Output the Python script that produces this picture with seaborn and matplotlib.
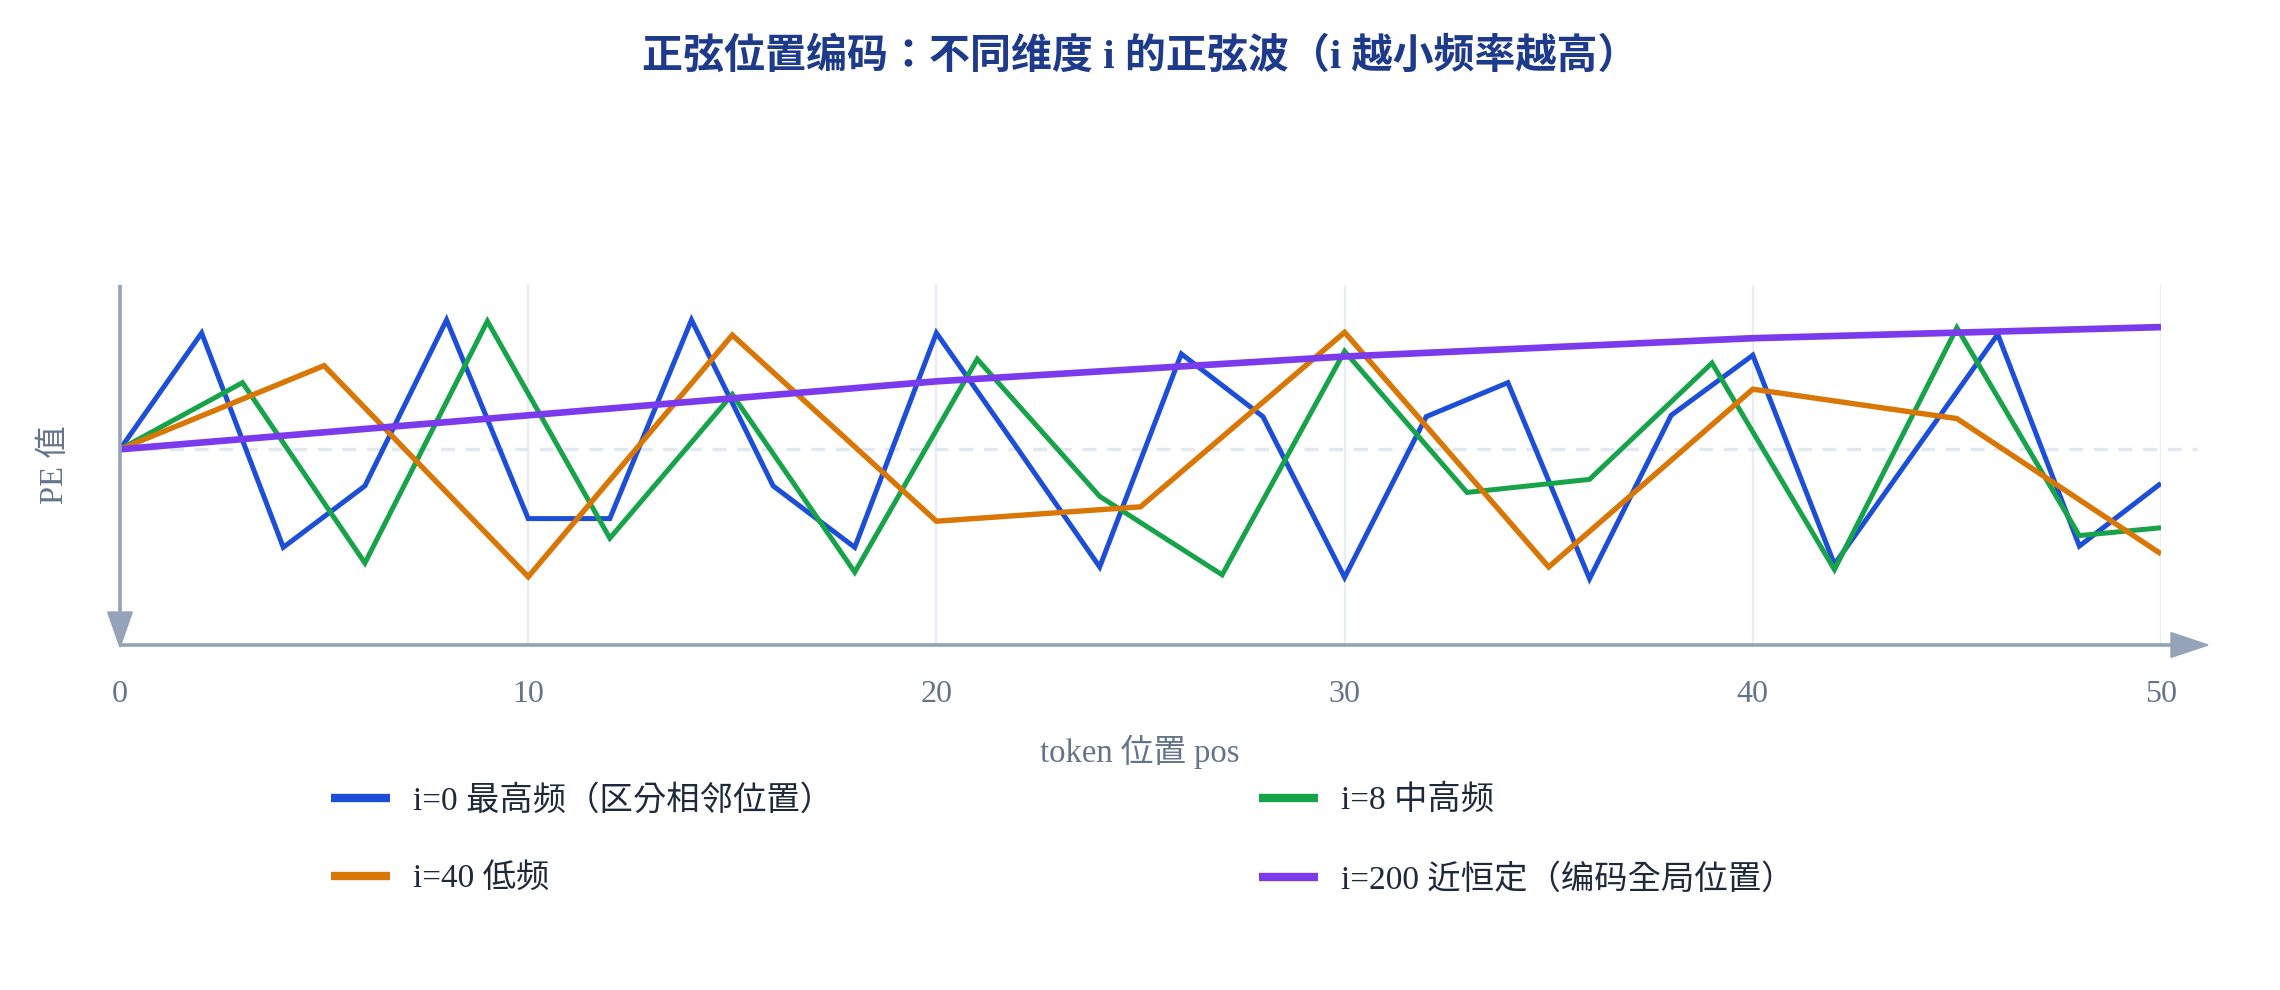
import matplotlib
matplotlib.use("Agg")
import matplotlib.pyplot as plt
from matplotlib.lines import Line2D
from matplotlib.patches import Polygon
import seaborn as sns
import pandas as pd

# ---------------- data ----------------
pos_i0 = [0, 2, 4, 6, 8, 10, 12, 14, 16, 18, 20, 22, 24, 26, 28, 30, 32, 34, 36, 38, 40, 42, 44, 46, 48, 50]
pe_i0 = [0.0, 0.89, -0.75, -0.28, 0.99, -0.53, -0.53, 0.99, -0.28, -0.75, 0.89, 0.0, -0.90, 0.73,
         0.25, -0.98, 0.25, 0.51, -0.99, 0.26, 0.72, -0.88, 0.0, 0.88, -0.74, -0.26]

pos_i8 = [0, 3, 6, 9, 12, 15, 18, 21, 24, 27, 30, 33, 36, 39, 42, 45, 48, 50]
pe_i8 = [0.0, 0.51, -0.87, 0.98, -0.68, 0.42, -0.94, 0.69, -0.36, -0.96, 0.75, -0.33, -0.23, 0.66,
         -0.92, 0.93, -0.66, -0.60]

pos_i40 = [0, 5, 10, 15, 20, 25, 30, 35, 40, 45, 50]
pe_i40 = [0.0, 0.64, -0.975, 0.874, -0.55, -0.44, 0.895, -0.90, 0.46, 0.235, -0.80]

pos_i200 = [0, 10, 20, 30, 40, 50]
pe_i200 = [0.0, 0.26, 0.52, 0.71, 0.85, 0.935]

series_labels = ["i=0 最高频（区分相邻位置）", "i=8 中高频", "i=40 低频", "i=200 近恒定（编码全局位置）"]
x_ticks = [0, 10, 20, 30, 40, 50]

title_text = "正弦位置编码：不同维度 i 的正弦波（i 越小频率越高）"
x_label = "token 位置 pos"
y_label = "PE 值"

# ---------------- style ----------------
sns.set_theme(style="white")
plt.rcParams["font.family"] = ["Liberation Serif", "Noto Sans CJK KR", "Noto Sans CJK SC", "DejaVu Sans"]

colors = ["#1d4ed8", "#16a34a", "#d97706", "#7c3aed"]
widths = [3.6, 3.6, 3.9, 4.8]
axis_color = "#94a3b8"
tick_color = "#64748b"
grid_color = "#e8ecf3"

W, H = 2280, 990
fig = plt.figure(figsize=(W / 100, H / 100), dpi=100)


def fx(px):
    return px / W


def fy(py):
    return 1 - py / H


left_px, right_px, top_px, bottom_px = 120, 2161, 285, 645
ax = fig.add_axes([fx(left_px), fy(bottom_px), fx(right_px - left_px), (bottom_px - top_px) / H])

ax.set_xlim(0, 50)
ax.set_ylim(-1.497, 1.257)
for s in ax.spines.values():
    s.set_visible(False)

ax.set_xticks(x_ticks)
ax.set_yticks([])
ax.tick_params(axis="x", length=0, pad=25, labelsize=23, labelcolor=tick_color)
ax.grid(axis="x", color=grid_color, lw=1.6)
ax.grid(axis="y", visible=False)
ax.set_axisbelow(True)

# zero reference dashed line (extends slightly past the last tick like the reference)
ax.plot([0, 1.0176], [0.5431, 0.5431], transform=ax.transAxes, color="#e2e8f0", lw=2.4,
        dashes=(4.2, 3.2), clip_on=False, zorder=1)

# series
frames = [
    pd.DataFrame({"pos": pos_i0, "pe": pe_i0}),
    pd.DataFrame({"pos": pos_i8, "pe": pe_i8}),
    pd.DataFrame({"pos": pos_i40, "pe": pe_i40}),
    pd.DataFrame({"pos": pos_i200, "pe": pe_i200}),
]
for k, df in enumerate(frames):
    sns.lineplot(data=df, x="pos", y="pe", ax=ax, color=colors[k], lw=widths[k],
                 sort=False, legend=False, zorder=3 + k)
    ax.lines[-1].set_solid_joinstyle("miter")
    ax.lines[-1].set_solid_capstyle("butt")

ax.set_xlabel("")
ax.set_ylabel("")

# axis lines with arrows
fig.add_artist(Line2D([fx(120), fx(2175)], [fy(645), fy(645)], transform=fig.transFigure,
                      color=axis_color, lw=2.6, solid_capstyle="butt", zorder=10))
fig.add_artist(Polygon([[fx(2171), fy(632.6)], [fx(2208), fy(645)], [fx(2171), fy(657.4)]],
                       closed=True, transform=fig.transFigure, color=axis_color, zorder=10))
fig.add_artist(Line2D([fx(120), fx(120)], [fy(285), fy(615)], transform=fig.transFigure,
                      color=axis_color, lw=2.6, solid_capstyle="butt", zorder=10))
fig.add_artist(Polygon([[fx(107.7), fy(612)], [fx(132.3), fy(612)], [fx(120), fy(647)]],
                       closed=True, transform=fig.transFigure, color=axis_color, zorder=10))

# texts
fig.text(0.5, fy(57), title_text, ha="center", va="center", fontsize=29.5, fontweight="bold",
         color="#1e3a8a")
fig.text(fx(1140), fy(752), x_label, ha="center", va="center", fontsize=23.5, color=tick_color)
fig.text(fx(55), fy(465), y_label, ha="center", va="center", rotation=90, fontsize=23.5,
         color=tick_color)

# legend (column-major order: blue, orange | green, purple)
order = [0, 2, 1, 3]
handles = [Line2D([0], [0], color=colors[k], lw=6, solid_capstyle="butt") for k in order]
labels = [series_labels[k] for k in order]
leg = fig.legend(handles, labels, ncol=2, loc="center left",
                 bbox_to_anchor=(fx(331), fy(840)), bbox_transform=fig.transFigure,
                 frameon=False, borderpad=0, borderaxespad=0, fontsize=24,
                 handlelength=1.77, handletextpad=0.69, columnspacing=12.78, labelspacing=1.42,
                 labelcolor="#1e293b")

fig.savefig("out.png", dpi=100)
